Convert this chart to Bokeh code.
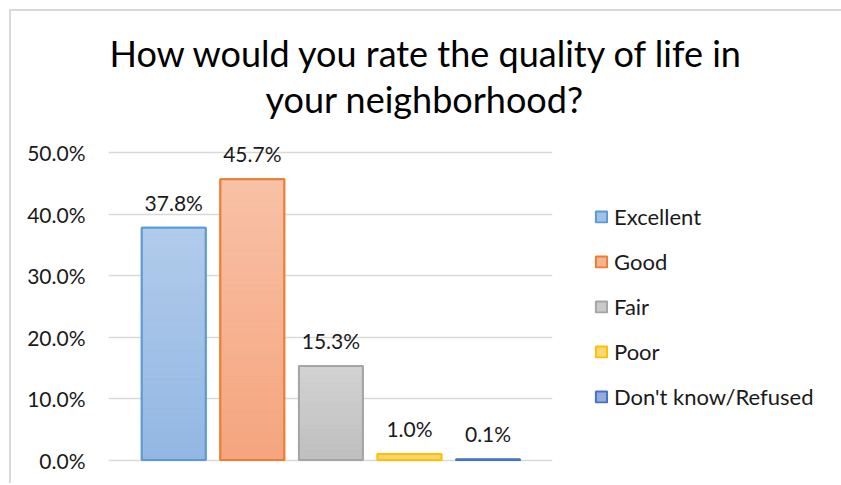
import numpy as np
from bokeh.plotting import figure
from bokeh.models import Range1d, Legend, LegendItem, FixedTicker, Title
from bokeh.core.properties import value
from bokeh.embed import file_html
from bokeh.resources import INLINE

title_lines = ["How would you rate the quality of life in", "your neighborhood?"]
categories = ["Excellent", "Good", "Fair", "Poor", "Don't know/Refused"]
values = [37.8, 45.7, 15.3, 1.0, 0.1]
value_labels = ["37.8%", "45.7%", "15.3%", "1.0%", "0.1%"]
y_ticks = [0, 10, 20, 30, 40, 50]
y_tick_labels = ["0.0%", "10.0%", "20.0%", "30.0%", "40.0%", "50.0%"]

line_colors = ["#5b9bd5", "#ed7d31", "#a5a5a5", "#ffc000", "#4472c4"]
top_colors = ["#b1cbea", "#f8c1a6", "#d3d3d3", "#ffdc80", "#9cb3e0"]
bottom_colors = ["#93b7e3", "#f5a57f", "#bfbfbf", "#ffd466", "#8aa5da"]

FONT = "Lato"
TEXT = "#1a1a1a"
FS = "21px"


def hex2rgb(h):
    h = h.lstrip("#")
    return np.array([int(h[i:i + 2], 16) for i in (0, 2, 4)], dtype=float)


def rgb2hex(c):
    return "#%02x%02x%02x" % tuple(int(round(v)) for v in c)


xs = list(range(len(categories)))
BAR_W = 0.813

p = figure(frame_width=444, frame_height=344, x_range=Range1d(-0.83, 4.82), y_range=Range1d(-3, 53),
           output_backend="svg", toolbar_location=None, title=None,
           min_border_left=97, min_border_right=286, min_border_top=123, min_border_bottom=5)
p.styles = {"margin": "9px 0 0 9px", "border": "2px solid #d9d9d9", "border-bottom": "none"}
p.outline_line_color = None
p.background_fill_color = "white"
p.border_fill_color = "white"

# base bars (legend glyphs)
legend_items = []
for i, (x, v) in enumerate(zip(xs, values)):
    mid = rgb2hex((hex2rgb(top_colors[i]) + hex2rgb(bottom_colors[i])) / 2)
    r = p.vbar(x=[x], top=[v], bottom=0, width=BAR_W, fill_color=mid,
               line_color=line_colors[i], line_width=2)
    legend_items.append(LegendItem(label=categories[i], renderers=[r]))

# gradient slices
N = 40
for i, (x, v) in enumerate(zip(xs, values)):
    edges = np.linspace(0, v, N + 1)
    t = hex2rgb(top_colors[i])
    b = hex2rgb(bottom_colors[i])
    cols = [rgb2hex(b + (t - b) * (k + 0.5) / N) for k in range(N)]
    p.vbar(x=[x] * N, bottom=list(edges[:-1]), top=list(edges[1:]), width=BAR_W,
           fill_color=cols, line_color=cols, line_width=0.5)
    p.vbar(x=[x], top=[v], bottom=0, width=BAR_W, fill_alpha=0,
           line_color=line_colors[i], line_width=2)

# data labels
p.text(x=xs, y=values, text=value_labels, text_align="center", text_baseline="bottom",
       y_offset=-13, text_font=value(FONT), text_font_size=FS, text_color=TEXT)

# axes
p.xaxis.visible = False
p.yaxis.ticker = FixedTicker(ticks=y_ticks)
p.yaxis.major_label_overrides = dict(zip(y_ticks, y_tick_labels))
p.yaxis.axis_line_color = None
p.yaxis.major_tick_line_color = None
p.yaxis.minor_tick_line_color = None
p.yaxis.major_label_text_font = FONT
p.yaxis.major_label_text_font_size = FS
p.yaxis.major_label_text_color = TEXT
p.yaxis.major_label_standoff = 17

p.xgrid.visible = False
p.ygrid.ticker = FixedTicker(ticks=y_ticks)
p.ygrid.grid_line_color = "#d9d9d9"
p.ygrid.grid_line_width = 1.5

# title (two lines, nearest to frame added first)
t2 = Title(text=title_lines[1], align="left", offset=157, standoff=28,
           text_font=FONT, text_font_style="normal", text_font_size="36px", text_color="#000000")
t1 = Title(text=title_lines[0], align="left", offset=1, standoff=-28,
           text_font=FONT, text_font_style="normal", text_font_size="36px", text_color="#000000")
p.add_layout(t2, "above")
p.add_layout(t1, "above")

legend = Legend(items=legend_items, location="center_left", orientation="vertical",
                label_text_font=FONT, label_text_font_size="22px", label_text_color=TEXT,
                glyph_width=14, glyph_height=14, label_height=14, spacing=18,
                label_standoff=6, margin=32, padding=10,
                border_line_alpha=0, background_fill_alpha=0)
p.add_layout(legend, "right")

open("out.html", "w").write(file_html(p, INLINE))
